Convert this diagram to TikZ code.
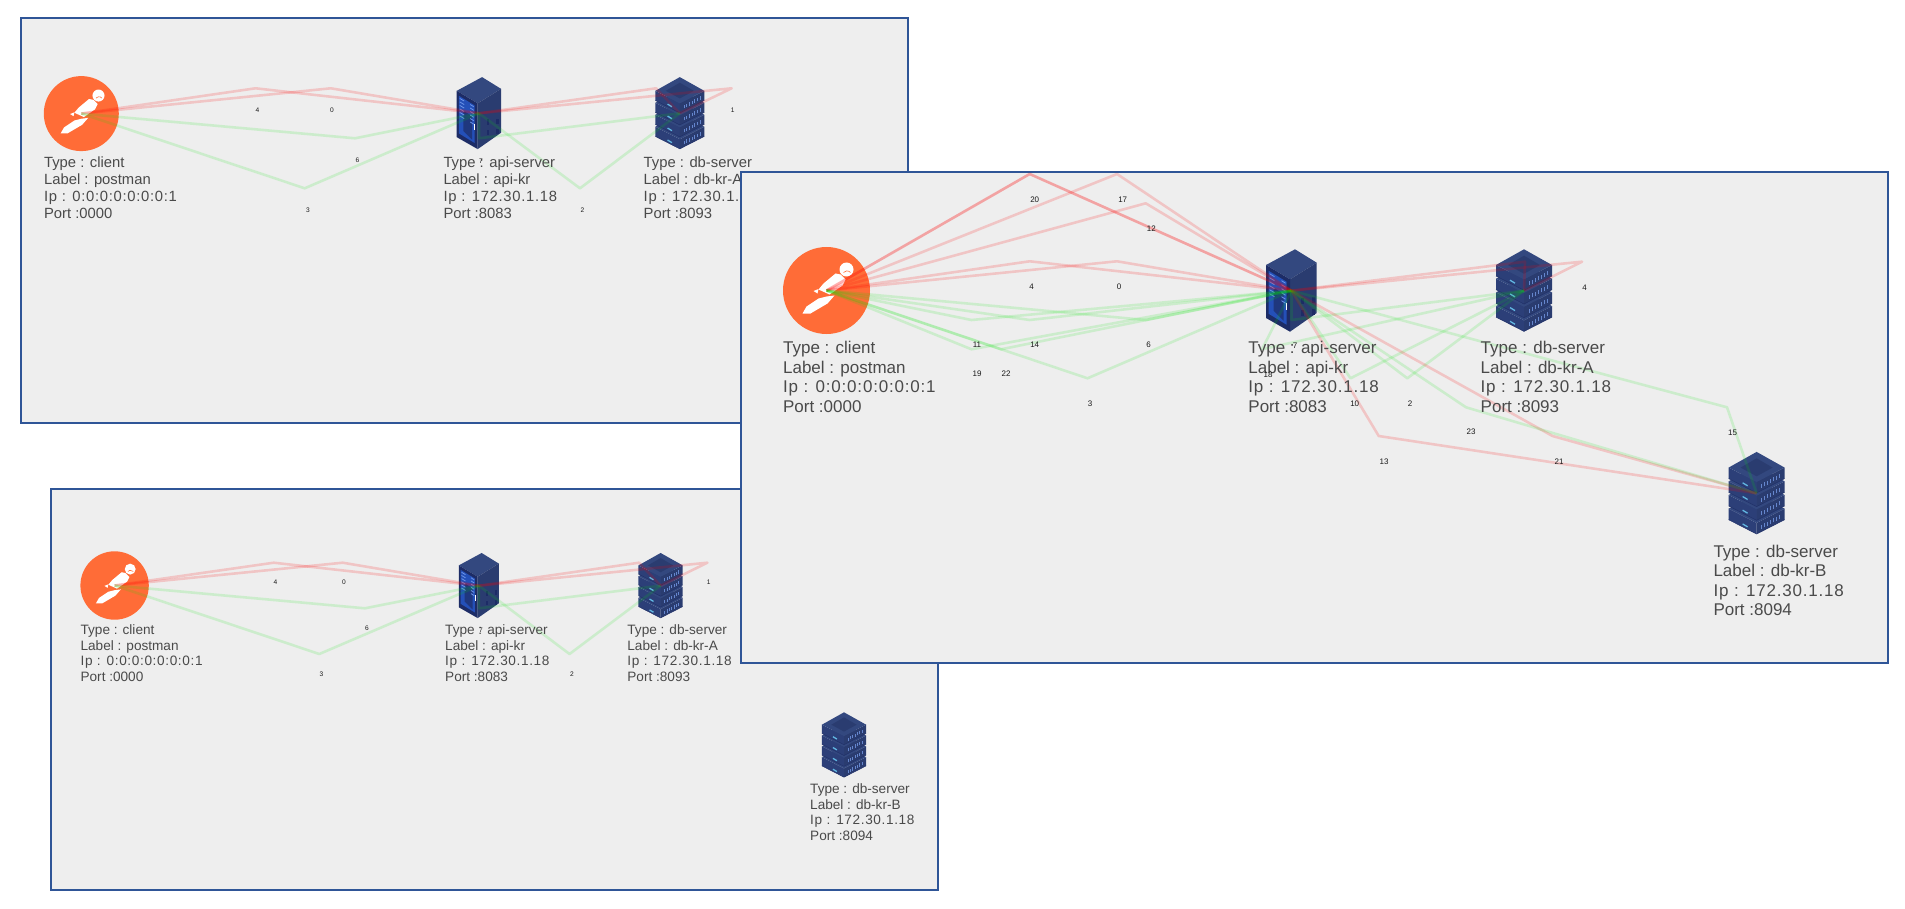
\documentclass[tikz,border=0pt]{standalone}
\usepackage{fontspec}
\setmainfont{Liberation Sans}
\definecolor{panelbg}{HTML}{EEEEEE}
\definecolor{panelline}{HTML}{2F5597}
\definecolor{pmorange}{HTML}{FF6C37}
\definecolor{txtc}{HTML}{4A4A4A}
\definecolor{navA}{HTML}{33487F}
\definecolor{navB}{HTML}{2A3C70}
\definecolor{navC}{HTML}{1D2C66}
\definecolor{navD}{HTML}{2C3F78}
\definecolor{scr}{HTML}{2450B8}
\definecolor{lite}{HTML}{7FA6F5}
\definecolor{cyn}{HTML}{6FD6FF}
\newcommand\ipl[1]{{\addfontfeature{LetterSpace=4.7}#1}}
\tikzset{
  panel/.style={draw=panelline,line width=2pt,fill=panelbg},
  redge/.style={draw=red,opacity=.17,line width=2.6pt,line join=round},
  gedge/.style={draw=green!90!black,opacity=.14,line width=2.6pt,line join=round},
  elab3/.style={font=\fontsize{8}{9}\selectfont,text=black!90,inner sep=0pt},
  elab1/.style={font=\fontsize{6.6}{7}\selectfont,text=black!90,inner sep=0pt},
  info3/.style={font=\fontsize{17}{19.6}\selectfont,text=txtc,align=left,anchor=north west,inner sep=0pt},
  info1/.style={font=\fontsize{14.8}{17}\selectfont,text=txtc,align=left,anchor=north west,inner sep=0pt},
  info2/.style={font=\fontsize{13.6}{15.6}\selectfont,text=txtc,align=left,anchor=north west,inner sep=0pt},
  clientdisc/.style={circle,fill=pmorange,inner sep=0pt},
  pics/dbicon/.style={code={
    \foreach \s in {41.1,27.4,13.7,0}{
      \fill[navD] (-28,{-25.7+\s}) -- (0,{-11.4+\s}) -- (0,{-0.4+\s}) -- (-28,{-14.7+\s}) -- cycle;
      \fill[navB] (28,{-25.7+\s}) -- (0,{-11.4+\s}) -- (0,{-0.4+\s}) -- (28,{-14.7+\s}) -- cycle;
      \fill[navA] (0,{-41.4+\s}) -- (28,{-25.7+\s}) -- (0,{-11.4+\s}) -- (-28,{-25.7+\s}) -- cycle;
      \draw[navC!70!navB,line width=.5pt] (-28,{-14.7+\s}) -- (0,{-0.4+\s}) -- (28,{-14.7+\s});
      \draw[cyn!80!navB,line width=1.3pt] (-14,{-10.5+\s}) -- (-9,{-7.5+\s});
      \foreach \b in {0,...,6}{
        \draw[lite!70!navB,line width=.8pt] ({5+\b*3},{-5.5+\s-\b*1.65}) -- ++(0,-4);
      }
    }
    \fill[navB] (0,-35) -- (16,-25.7) -- (0,-17) -- (-16,-25.7) -- cycle;
  }},
  pics/apiicon/.style={code={
    \fill[navA] (3.5,-41.4) -- (25.2,-28) -- (-1.5,-11.4) -- (-25.5,-25.7) -- cycle;
    \fill[navB] (25.2,-28) -- (25.2,22.3) -- (-1.5,41) -- (-1.5,-11.4) -- cycle;
    \fill[navC] (-25.5,-25.7) -- (-1.5,-11.4) -- (-1.5,41) -- (-25.5,27.3) -- cycle;
    \fill[scr] (-23,-20) -- (-5,-9) -- (-5,34) -- (-23,23) -- cycle;
    \fill[navC!70!scr] (-18,-3) -- (-8,3) -- (-8,30) -- (-18,20) -- cycle;
    \foreach \b in {0,...,5}{
      \draw[lite!80!scr,line width=.8pt] (-22,{-17+\b*4}) -- (-17,{-14+\b*4});
      \draw[lite!80!scr,line width=.8pt] (-10,{-10+\b*4}) -- (-6,{-7.5+\b*4});
    }
    \draw[white,line width=.9pt] (-5,12) -- (-5,19);
    \fill[navC] (9,19) rectangle (12,25);
    \fill[navC] (9,7) rectangle (12,13);
    \fill[navC] (20,6) rectangle (23,12);
    \fill[navC] (20,18) rectangle (23,24);
  }},
  pics/rocketman/.style={code={
    \fill[white] (20,-21) circle (7);
    \draw[pmorange,line width=.6pt] (24,-18) arc[start angle=-40,end angle=-140,radius=4.5];
    \fill[white] (9,-17) -- (14,-16) -- (19,-11) -- (16,-5) -- (3,4) -- (-8,-1) -- (-3,-7) -- cycle;
    \fill[white] (-8,-1.5) -- (-13,0.5) -- (-9,3) -- cycle;
    \fill[white] (8,5) -- (1,13) -- (-16,23) -- (-24,23) -- (-20,16) -- (-8,8) -- (0,6) -- cycle;
  }},
}
\begin{document}
\begin{tikzpicture}[x=1pt,y=-1pt]
\useasboundingbox (0,0) rectangle (1905,909);
\fill[white] (0,0) rectangle (1905,909);

% ---------- panel 1
\node[panel,minimum width=887pt,minimum height=404.5pt,inner sep=0pt,anchor=north west] (pA) at (19.7,17.2) {};
\node[clientdisc,minimum size=75pt] (cA) at (81.3,113.6) {};
\pic[scale=.86] at (cA.center) {rocketman};
\coordinate (aA) at (479,113.3);
\coordinate (dA) at (679.8,113.3);
\pic[scale=.874] at (aA) {apiicon};
\pic[scale=.874] at (dA) {dbicon};
\coordinate (aw4) at (255.5,88.3);
\coordinate (aw0) at (330.8,88.3);
\coordinate (aw5) at (656,88.3);
\coordinate (aw1) at (731.7,88.3);
\coordinate (aw6) at (355,138.3);
\coordinate (aw3) at (304.7,188.3);
\coordinate (aw7) at (479,138.3);
\coordinate (aw2) at (580,188.3);
\foreach \w in {aw4,aw0}{\draw[redge] (cA.center) -- (\w) -- (aA);}
\foreach \w in {aw6,aw3}{\draw[gedge] (cA.center) -- (\w) -- (aA);}
\foreach \w in {aw5,aw1}{\draw[redge] (aA) -- (\w) -- (dA);}
\foreach \w in {aw7,aw2}{\draw[gedge] (aA) -- (\w) -- (dA);}
\node[info1] (tA1) at (43.9,157) {Type : client\\Label : postman\\\ipl{Ip : 0:0:0:0:0:0:0:1}\\Port :0000};
\node[info1] (tA2) at (443.3,157) {Type : api-server\\Label : api-kr\\\ipl{Ip : 172.30.1.18}\\Port :8083};
\node[info1] (tA3) at (643.5,157) {Type : db-server\\Label : db-kr-A\\\ipl{Ip : 172.30.1.18}\\Port :8093};
\node[elab1] (la4) at (257.4,110) {4};
\node[elab1] (la0) at (332,110) {0};
\node[elab1] (la6) at (357.5,160) {6};
\node[elab1] (la3) at (308,210) {3};
\node[elab1] (la2) at (582.5,210) {2};
\node[elab1] (la1) at (732.6,110) {1};
\node[elab1] (la7) at (481,161) {7};

% ---------- panel 2
\node[panel,minimum width=887pt,minimum height=400.4pt,inner sep=0pt,anchor=north west] (pB) at (50.3,488.3) {};
\node[clientdisc,minimum size=68.4pt] (cB) at (114.6,585.5) {};
\pic[scale=.78] at (cB.center) {rocketman};
\coordinate (bA) at (478.9,585.7);
\coordinate (dB) at (660.6,585.7);
\coordinate (eB) at (844,745);
\pic[scale=.79] at (bA) {apiicon};
\pic[scale=.79] at (dB) {dbicon};
\pic[scale=.79] at (eB) {dbicon};
\coordinate (bw4) at (273.8,562.7);
\coordinate (bw0) at (342.7,562.7);
\coordinate (bw5) at (639,562.7);
\coordinate (bw1) at (707.4,562.7);
\coordinate (bw6) at (364.9,608.3);
\coordinate (bw3) at (319.3,654);
\coordinate (bw7) at (478.9,608.3);
\coordinate (bw2) at (569.5,654);
\foreach \w in {bw4,bw0}{\draw[redge] (cB.center) -- (\w) -- (bA);}
\foreach \w in {bw6,bw3}{\draw[gedge] (cB.center) -- (\w) -- (bA);}
\foreach \w in {bw5,bw1}{\draw[redge] (bA) -- (\w) -- (dB);}
\foreach \w in {bw7,bw2}{\draw[gedge] (bA) -- (\w) -- (dB);}
\node[info2] (tB1) at (80.4,624.5) {Type : client\\Label : postman\\\ipl{Ip : 0:0:0:0:0:0:0:1}\\Port :0000};
\node[info2] (tB2) at (445,624.5) {Type : api-server\\Label : api-kr\\\ipl{Ip : 172.30.1.18}\\Port :8083};
\node[info2] (tB3) at (627.2,624.5) {Type : db-server\\Label : db-kr-A\\\ipl{Ip : 172.30.1.18}\\Port :8093};
\node[info2] (tB4) at (810,783.5) {Type : db-server\\Label : db-kr-B\\\ipl{Ip : 172.30.1.18}\\Port :8094};
\node[elab1] (lb4) at (275.5,582.7) {4};
\node[elab1] (lb0) at (344,582.7) {0};
\node[elab1] (lb6) at (367,628.3) {6};
\node[elab1] (lb3) at (321.5,674) {3};
\node[elab1] (lb2) at (572,674) {2};
\node[elab1] (lb1) at (708.7,582.7) {1};
\node[elab1] (lb7) at (481,630) {7};

% ---------- panel 3
\node[panel,minimum width=1147pt,minimum height=491pt,inner sep=0pt,anchor=north west] (pC) at (739.5,170.7) {};
\node[clientdisc,minimum size=87pt] (cC) at (826.5,290.5) {};
\pic at (cC.center) {rocketman};
\coordinate (aC) at (1291.5,290.7);
\coordinate (dC) at (1524,290.7);
\coordinate (eC) at (1756.6,493.3);
\pic at (aC) {apiicon};
\pic at (dC) {dbicon};
\pic at (eC) {dbicon};
\coordinate (w20) at (1029.7,174);
\coordinate (w17) at (1117,174);
\coordinate (w12) at (1145.7,203.3);
\coordinate (w4) at (1029.7,261.3);
\coordinate (w0) at (1117,261.3);
\coordinate (w11) at (971.5,320);
\coordinate (w14) at (1029.7,320);
\coordinate (w6) at (1145.7,320);
\coordinate (w19) at (971.5,349.3);
\coordinate (w22) at (1001,349.3);
\coordinate (w3) at (1087.5,378.3);
\coordinate (w5) at (1525,261.7);
\coordinate (w1) at (1582,261.7);
\coordinate (w7) at (1291.5,320);
\coordinate (w2) at (1407.3,378.3);
\coordinate (w10) at (1350.5,378.3);
\coordinate (w18) at (1262,349.3);
\coordinate (w13) at (1378.7,436);
\coordinate (w21) at (1552.5,436);
\coordinate (w23) at (1466,407.3);
\coordinate (w15) at (1727,407.3);
\foreach \w in {w20,w20,w17,w12,w4,w0}{\draw[redge] (cC.center) -- (\w) -- (aC);}
\foreach \w in {w11,w14,w6,w19,w22,w3}{\draw[gedge] (cC.center) -- (\w) -- (aC);}
\foreach \w in {w5,w1}{\draw[redge] (aC) -- (\w) -- (dC);}
\foreach \w in {w7,w2,w10,w18}{\draw[gedge] (aC) -- (\w) -- (dC);}
\foreach \w in {w13,w21}{\draw[redge] (aC) -- (\w) -- (eC);}
\foreach \w in {w23,w15}{\draw[gedge] (aC) -- (\w) -- (eC);}
\node[info3] (tC1) at (782.9,341) {Type : client\\Label : postman\\\ipl{Ip : 0:0:0:0:0:0:0:1}\\Port :0000};
\node[info3] (tC2) at (1248.2,341) {Type : api-server\\Label : api-kr\\\ipl{Ip : 172.30.1.18}\\Port :8083};
\node[info3] (tC3) at (1480.5,341) {Type : db-server\\Label : db-kr-A\\\ipl{Ip : 172.30.1.18}\\Port :8093};
\node[info3] (tC4) at (1713.3,544.5) {Type : db-server\\Label : db-kr-B\\\ipl{Ip : 172.30.1.18}\\Port :8094};
\node[elab3] (l20) at (1034.7,200) {20};
\node[elab3] (l17) at (1122.7,200) {17};
\node[elab3] (l12) at (1151.4,229) {12};
\node[elab3] (l4) at (1031.6,287) {4};
\node[elab3] (l0) at (1119,287) {0};
\node[elab3] (l11) at (977,345) {11};
\node[elab3] (l14) at (1034.7,345) {14};
\node[elab3] (l6) at (1148.7,345) {6};
\node[elab3] (l19) at (977,374) {19};
\node[elab3] (l22) at (1006,374) {22};
\node[elab3] (l3) at (1090,403.3) {3};
\node[elab3] (l18) at (1268,375) {18};
\node[elab3] (l7) at (1295,346) {7};
\node[elab3] (l10) at (1354.7,403.3) {10};
\node[elab3] (l2) at (1410,403.3) {2};
\node[elab3] (l23) at (1471,432) {23};
\node[elab3] (l21) at (1559,461.7) {21};
\node[elab3] (l13) at (1384,461.7) {13};
\node[elab3] (l15) at (1732.6,432.3) {15};
\node[elab3] (l1) at (1584.5,287.3) {4};
\end{tikzpicture}
\end{document}
